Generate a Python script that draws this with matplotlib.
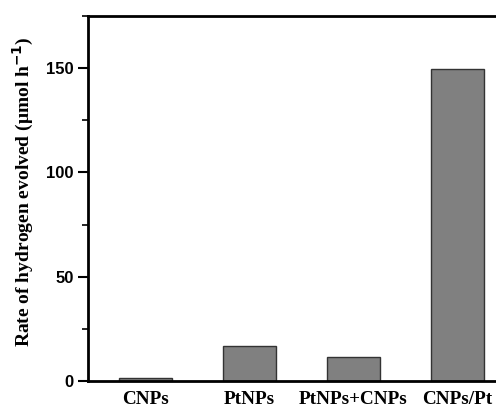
import numpy as np
import matplotlib.pyplot as plt
from matplotlib.ticker import MultipleLocator

samples = ['CNPs', 'PtNPs', 'PtNPs+CNPs', 'CNPs/Pt']
rates = [1.5, 16.7, 11.5, 149.5]

fig = plt.figure(figsize=(4.96, 4.09), dpi=100)
ax = fig.add_axes([0.1774, 0.0685, 0.8226, 0.8925])

x = np.arange(len(samples))
ax.bar(x, rates, width=0.51, color='#808080', edgecolor='#333333', linewidth=1.0)

ax.set_xlim(-0.55, 3.375)
ax.set_ylim(0, 175)
ax.set_xticks(x)
ax.set_xticklabels(samples, family='Liberation Serif', fontweight='bold', fontsize=13.8)
ax.tick_params(axis='x', length=0, pad=7.5)

ax.yaxis.set_major_locator(MultipleLocator(50))
ax.yaxis.set_minor_locator(MultipleLocator(25))
ax.tick_params(axis='y', which='major', length=7, width=1.5, direction='out', labelsize=12)
ax.tick_params(axis='y', which='minor', length=4, width=1.2, direction='out')
for lab in ax.get_yticklabels():
    lab.set_family('Liberation Sans')
    lab.set_fontweight('bold')

ax.set_ylabel('Rate of hydrogen evolved (\u03bcmol h$^{\\mathbf{-1}}$)',
              family='Liberation Serif', fontweight='bold', fontsize=14)
ax.yaxis.set_label_coords(-0.128, 0.52)

for s in ['left', 'bottom', 'top']:
    ax.spines[s].set_linewidth(2)
ax.spines['right'].set_visible(False)

fig.savefig('out.png', dpi=100)
